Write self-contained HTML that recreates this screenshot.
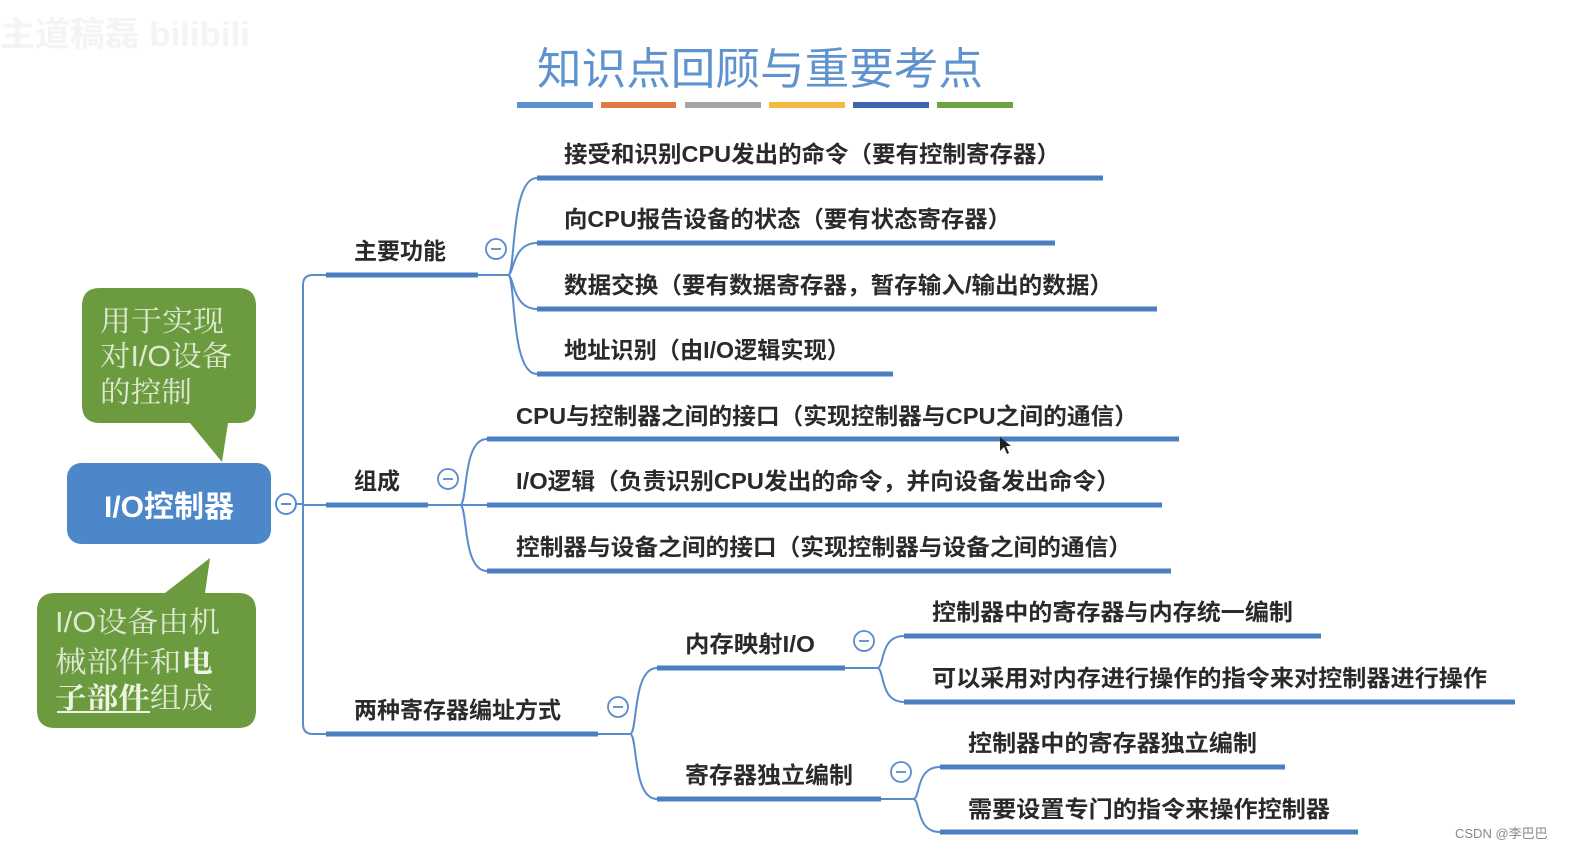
<!DOCTYPE html>
<html><head><meta charset="utf-8"><style>
html,body{margin:0;padding:0;background:#fff;width:1570px;height:851px;overflow:hidden}
svg{display:block}
text{font-family:"Liberation Sans","Noto Sans CJK SC",sans-serif}
.t{font-size:23px;fill:#2a2a2a;font-weight:600}
.u{stroke:#4a7fc1;stroke-width:5;fill:none}
.c{stroke:#5a8ccb;stroke-width:2;fill:none}
.g{font-size:29px;fill:#dfe9d2;font-family:"Liberation Sans","Noto Serif CJK SC",serif}
</style></head><body>
<svg width="1570" height="851" viewBox="0 0 1570 851">
<text x="0" y="46" font-size="34" fill="#f4f4f4" font-weight="bold" textLength="250" lengthAdjust="spacingAndGlyphs">主道稿磊 bilibili</text>
<text x="760" y="84" text-anchor="middle" font-size="44" fill="#5e93cf" textLength="446" lengthAdjust="spacingAndGlyphs">知识点回顾与重要考点</text>
<g stroke-width="6">
<line x1="517" y1="105" x2="593" y2="105" stroke="#5b92cf"/>
<line x1="601" y1="105" x2="676" y2="105" stroke="#e07a45"/>
<line x1="685" y1="105" x2="761" y2="105" stroke="#a5a5a5"/>
<line x1="769" y1="105" x2="845" y2="105" stroke="#f3b941"/>
<line x1="853" y1="105" x2="929" y2="105" stroke="#3e66b0"/>
<line x1="937" y1="105" x2="1013" y2="105" stroke="#6ea344"/>
</g>

<path d="M100,288 H238 Q256,288 256,306 V405 Q256,423 238,423 H228 L222,462 L190,423 H100 Q82,423 82,405 V306 Q82,288 100,288 Z" fill="#6b9a3f"/>
<text class="g" x="100" y="331" textLength="124" lengthAdjust="spacingAndGlyphs">用于实现</text>
<text class="g" x="100" y="366" textLength="132" lengthAdjust="spacingAndGlyphs">对I/O设备</text>
<text class="g" x="100" y="402" textLength="92" lengthAdjust="spacingAndGlyphs">的控制</text>
<path d="M55,593 H165 L210,558 L205,593 H238 Q256,593 256,611 V710 Q256,728 238,728 H55 Q37,728 37,710 V611 Q37,593 55,593 Z" fill="#6b9a3f"/>
<text class="g" x="55" y="632" textLength="165" lengthAdjust="spacingAndGlyphs">I/O设备由机</text>
<text class="g" x="55" y="672" textLength="158" lengthAdjust="spacingAndGlyphs">械部件和<tspan font-weight="bold" fill="#eef4e6">电</tspan></text>
<text class="g" x="55" y="708" textLength="158" lengthAdjust="spacingAndGlyphs"><tspan font-weight="bold" fill="#eef4e6">子部件</tspan>组成</text>
<line x1="57" y1="712" x2="150" y2="712" stroke="#eef4e6" stroke-width="2"/>

<rect x="67" y="463" width="204" height="81" rx="14" fill="#4b87c9"/>
<text x="169" y="517" text-anchor="middle" font-size="30" font-weight="bold" fill="#fff">I/O控制器</text>
<circle cx="286" cy="504" r="10" fill="#fff" stroke="#5a8ccb" stroke-width="2"/>
<line x1="281" y1="504" x2="291" y2="504" stroke="#5a8ccb" stroke-width="2"/>

<path class="c" d="M296,504 H303 M326,275 H313 Q303,275 303,285 V724 Q303,734 313,734 H326"/>
<path class="c" d="M303,505 H326"/>

<path class="u" d="M326,275 H478 M326,505 H428 M326,734 H598"/>
<text class="t" x="354" y="259">主要功能</text>
<text class="t" x="354" y="489">组成</text>
<text class="t" x="354" y="718">两种寄存器编址方式</text>

<g fill="#fff" stroke="#5a8ccb" stroke-width="1.8">
<circle cx="496" cy="249" r="10"/><circle cx="448" cy="479" r="10"/><circle cx="618" cy="707" r="10"/>
<circle cx="864" cy="641" r="10"/><circle cx="901" cy="772" r="10"/>
</g>
<g stroke="#5a8ccb" stroke-width="1.8">
<line x1="491" y1="249" x2="501" y2="249"/><line x1="443" y1="479" x2="453" y2="479"/><line x1="613" y1="707" x2="623" y2="707"/>
<line x1="859" y1="641" x2="869" y2="641"/><line x1="896" y1="772" x2="906" y2="772"/>
</g>

<path class="c" d="M478,275 H508 M508,275 C516,275 510,178 537,178 M508,275 C514,275 512,243 537,243 M508,275 C514,275 512,309 537,309 M508,275 C516,275 510,374 537,374"/>
<path class="u" d="M537,178 H1103 M537,243 H1055 M537,309 H1157 M537,374 H893"/>
<text class="t" x="564" y="162" textLength="496" lengthAdjust="spacingAndGlyphs">接受和识别CPU发出的命令（要有控制寄存器）</text>
<text class="t" x="564" y="227" textLength="447" lengthAdjust="spacingAndGlyphs">向CPU报告设备的状态（要有状态寄存器）</text>
<text class="t" x="564" y="293" textLength="549" lengthAdjust="spacingAndGlyphs">数据交换（要有数据寄存器，暂存输入/输出的数据）</text>
<text class="t" x="564" y="358" textLength="286" lengthAdjust="spacingAndGlyphs">地址识别（由I/O逻辑实现）</text>

<path class="c" d="M428,505 H460 M460,505 C468,505 462,439 487,439 M460,505 H487 M460,505 C468,505 462,571 487,571"/>
<path class="u" d="M487,439 H1179 M487,505 H1162 M487,571 H1171"/>
<text class="t" x="516" y="424" textLength="622" lengthAdjust="spacingAndGlyphs">CPU与控制器之间的接口（实现控制器与CPU之间的通信）</text>
<text class="t" x="516" y="489" textLength="604" lengthAdjust="spacingAndGlyphs">I/O逻辑（负责识别CPU发出的命令，并向设备发出命令）</text>
<text class="t" x="516" y="555" textLength="616" lengthAdjust="spacingAndGlyphs">控制器与设备之间的接口（实现控制器与设备之间的通信）</text>

<path class="c" d="M598,734 H630 M630,734 C638,734 632,668 657,668 M630,734 C638,734 632,799 657,799"/>
<path class="u" d="M657,668 H845 M657,799 H881"/>
<text class="t" x="685" y="652" textLength="130" lengthAdjust="spacingAndGlyphs">内存映射I/O</text>
<text class="t" x="685" y="783" textLength="168" lengthAdjust="spacingAndGlyphs">寄存器独立编制</text>

<path class="c" d="M845,668 H877 M877,668 C885,668 879,636 904,636 M877,668 C885,668 879,702 904,702"/>
<path class="u" d="M904,636 H1321 M904,702 H1515"/>
<text class="t" x="932" y="620" textLength="361" lengthAdjust="spacingAndGlyphs">控制器中的寄存器与内存统一编制</text>
<text class="t" x="932" y="686" textLength="555" lengthAdjust="spacingAndGlyphs">可以采用对内存进行操作的指令来对控制器进行操作</text>

<path class="c" d="M881,799 H913 M913,799 C921,799 915,767 940,767 M913,799 C921,799 915,832 940,832"/>
<path class="u" d="M940,767 H1285 M940,832 H1358"/>
<text class="t" x="968" y="751" textLength="289" lengthAdjust="spacingAndGlyphs">控制器中的寄存器独立编制</text>
<text class="t" x="968" y="817" textLength="362" lengthAdjust="spacingAndGlyphs">需要设置专门的指令来操作控制器</text>

<path d="M1000,437 L1000,451 L1004,447 L1007,454 L1009,453 L1006,446 L1011,446 Z" fill="#222"/>
<text x="1455" y="838" font-size="13" fill="#888">CSDN @李巴巴</text>
</svg>
</body></html>
